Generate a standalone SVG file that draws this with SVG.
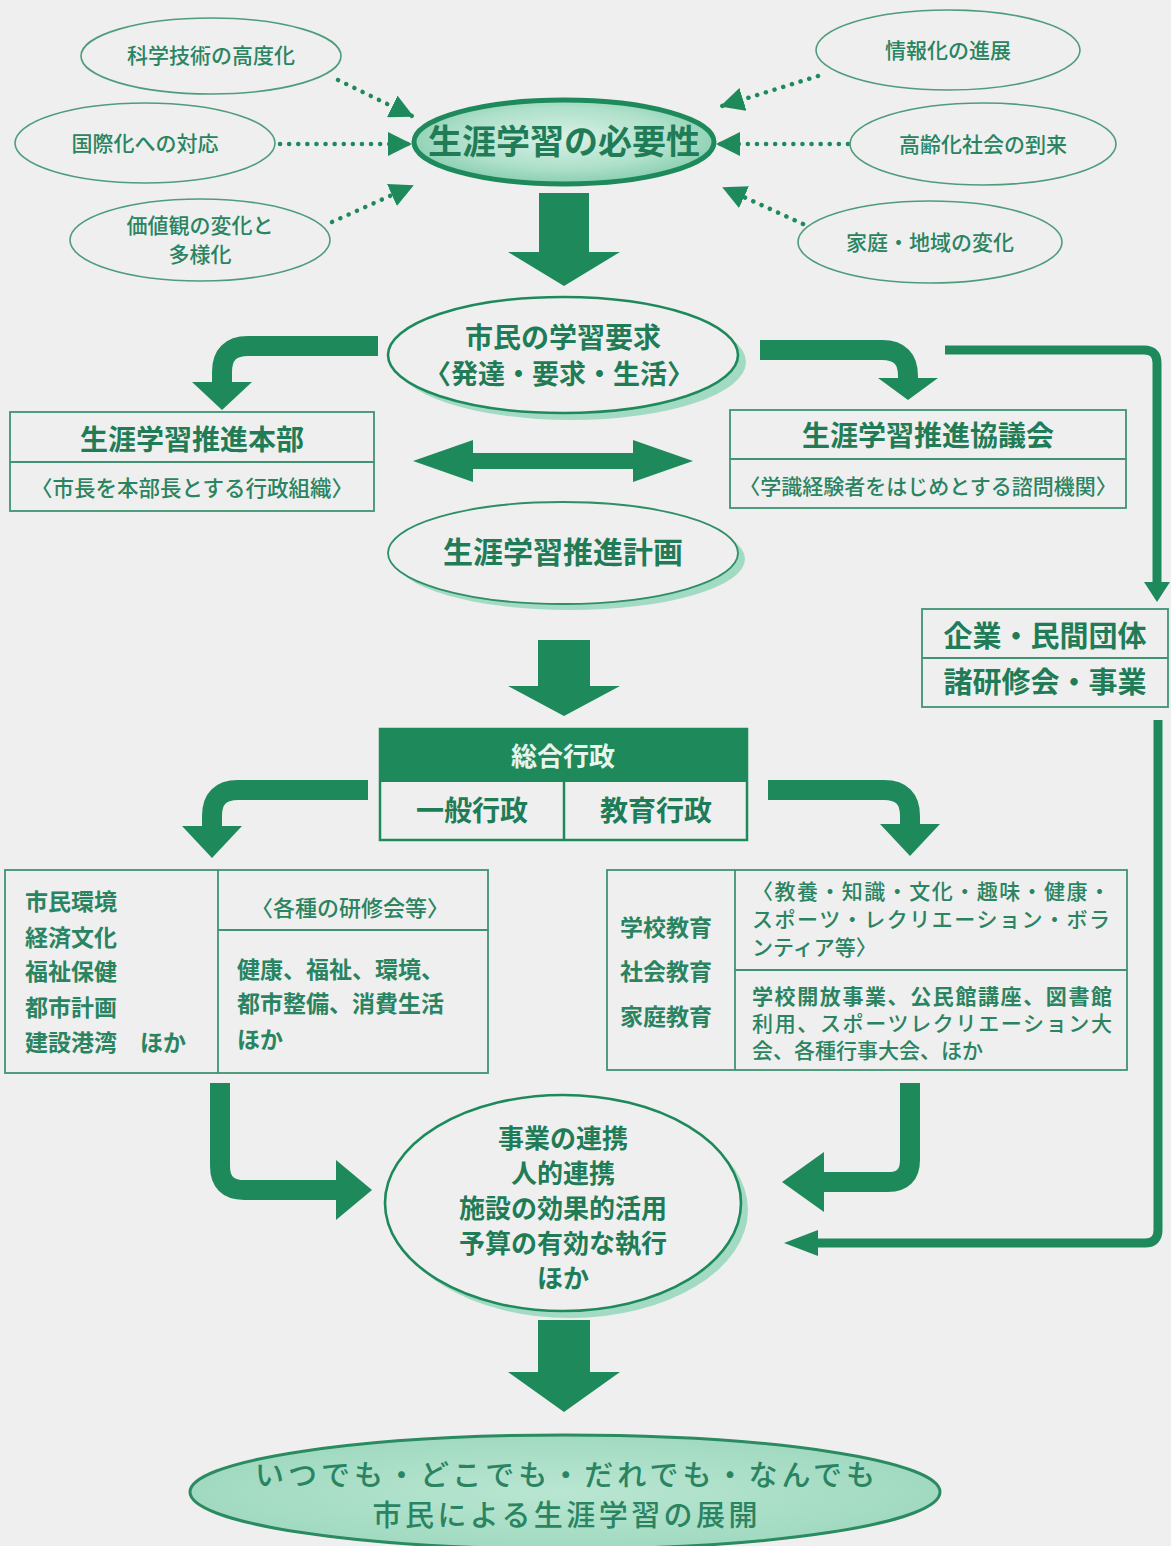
<svg xmlns="http://www.w3.org/2000/svg" width="1171" height="1546" viewBox="0 0 1171 1546">
<defs>
<style>
.t{font-family:"Noto Sans CJK JP","Noto Sans CJK SC",sans-serif;fill:#2a8461;}
.b{font-weight:700;fill:#1f7c57;}
.m{text-anchor:middle;}
.thin{fill:none;stroke:#4f9c7b;stroke-width:1.6;}
.box{fill:none;stroke:#3f9373;stroke-width:1.8;}
.dot{fill:none;stroke:#1e8a5c;stroke-width:4.5;stroke-dasharray:0.1 9;stroke-linecap:round;}
.ah{fill:#1e8a5c;}
.thick{fill:none;stroke:#1e8a5c;stroke-width:20;}
.line{fill:none;stroke:#1e8a5c;stroke-width:9;}
.shadow{fill:#a3dac3;}
.plain{fill:#efefef;stroke:#1e8a5c;stroke-width:2.6;}
</style>
<marker id="dh" viewBox="0 0 24 24" refX="22" refY="12" markerWidth="24" markerHeight="24" markerUnits="userSpaceOnUse" orient="auto">
<path d="M0,0 L24,12 L0,24 Z" fill="#1e8a5c"/>
</marker>
<radialGradient id="g1" cx="0.5" cy="0.45" r="0.6">
<stop offset="0" stop-color="#d9f1e6"/>
<stop offset="0.6" stop-color="#aee0ca"/>
<stop offset="1" stop-color="#7fcaa9"/>
</radialGradient>
<radialGradient id="g2" cx="0.5" cy="0.5" r="0.6">
<stop offset="0" stop-color="#b9e6d2"/>
<stop offset="1" stop-color="#9cd7bd"/>
</radialGradient>
</defs>
<rect x="0" y="0" width="1171" height="1546" fill="#efefef"/>

<g id="connectors">
<path class="dot" d="M338,80 L412,116" marker-end="url(#dh)"/>
<path class="dot" d="M280,144 L410,144" marker-end="url(#dh)"/>
<path class="dot" d="M332,222 L412,186" marker-end="url(#dh)"/>
<path class="dot" d="M818,76 L722,106" marker-end="url(#dh)"/>
<path class="dot" d="M848,144 L718,144" marker-end="url(#dh)"/>
<path class="dot" d="M803,224 L724,188" marker-end="url(#dh)"/>
<path class="ah" d="M539,193 H589 V252 H620 L564,286 L508,252 H539 Z"/>
<path class="thick" d="M378,346 H248 Q222,346 222,372 V384"/>
<path class="ah" d="M192,382 H252 L222,410 Z"/>
<path class="thick" d="M760,350 H882 Q908,350 908,376 V380"/>
<path class="ah" d="M878,378 H938 L908,400 Z"/>
<path class="line" d="M945,350 H1144 Q1157,350 1157,363 V584"/>
<path class="ah" d="M1144,582 H1170 L1157,602 Z"/>
<path class="ah" d="M413,461 L473,440 V453 H633 V440 L693,461 L633,482 V469 H473 V482 Z"/>
<path class="ah" d="M538,640 H590 V686 H620 L564,716 L508,686 H538 Z"/>
<path class="thick" d="M368,790 H238 Q212,790 212,816 V828"/>
<path class="ah" d="M182,826 H242 L212,858 Z"/>
<path class="thick" d="M768,790 H884 Q910,790 910,816 V826"/>
<path class="ah" d="M880,824 H940 L910,856 Z"/>
<path class="thick" d="M220,1083 V1166 Q220,1190 244,1190 H338"/>
<path class="ah" d="M336,1160 V1220 L372,1190 Z"/>
<path class="thick" d="M910,1083 V1160 Q910,1182 888,1182 H822"/>
<path class="ah" d="M824,1152 V1212 L782,1182 Z"/>
<path class="line" d="M1158,720 V1230 Q1158,1243 1145,1243 H815"/>
<path class="ah" d="M818,1230 V1256 L784,1243 Z"/>
<path class="ah" d="M538,1320 H590 V1372 H620 L564,1412 L508,1372 H538 Z"/>
</g>

<g id="n-kagaku"><ellipse class="thin" cx="211" cy="56" rx="130" ry="38"/><text class="t m" x="211" y="63" font-size="21" font-weight="500">科学技術の高度化</text></g>
<g id="n-kokusai"><ellipse class="thin" cx="145" cy="143" rx="130" ry="40"/><text class="t m" x="145" y="151" font-size="21" font-weight="500">国際化への対応</text></g>
<g id="n-kachi"><ellipse class="thin" cx="200" cy="240" rx="130" ry="41"/><text class="t m" x="200" y="233" font-size="21" font-weight="500">価値観の変化と</text><text class="t m" x="200" y="262" font-size="21" font-weight="500">多様化</text></g>
<g id="n-joho"><ellipse class="thin" cx="948" cy="50" rx="132" ry="40"/><text class="t m" x="948" y="58" font-size="21" font-weight="500">情報化の進展</text></g>
<g id="n-korei"><ellipse class="thin" cx="983" cy="144" rx="133" ry="41"/><text class="t m" x="983" y="152" font-size="21" font-weight="500">高齢化社会の到来</text></g>
<g id="n-katei"><ellipse class="thin" cx="930" cy="242" rx="132" ry="41"/><text class="t m" x="930" y="250" font-size="21" font-weight="500">家庭・地域の変化</text></g>

<g id="n-hitsuyo"><ellipse cx="564" cy="142" rx="150" ry="42" fill="url(#g1)" stroke="#1e8a5c" stroke-width="5"/><text class="t b m" x="564" y="154" font-size="34">生涯学習の必要性</text></g>

<g id="n-yokyu"><ellipse class="shadow" cx="571" cy="362" rx="175" ry="58"/><ellipse class="plain" cx="563" cy="355" rx="175" ry="58"/><text class="t b m" x="563" y="348" font-size="28">市民の学習要求</text><text class="t b m" x="559" y="384" font-size="27">〈発達・要求・生活〉</text></g>

<g id="n-honbu"><rect class="box" x="10" y="412" width="364" height="99"/><line class="box" x1="10" y1="462" x2="374" y2="462"/><text class="t b m" x="192" y="450" font-size="28">生涯学習推進本部</text><text class="t m" x="192" y="496" font-size="21.5" font-weight="500">〈市長を本部長とする行政組織〉</text></g>

<g id="n-kyogikai"><rect class="box" x="730" y="410" width="396" height="98"/><line class="box" x1="730" y1="459" x2="1126" y2="459"/><text class="t b m" x="928" y="446" font-size="28">生涯学習推進協議会</text><text class="t m" x="928" y="494" font-size="21" font-weight="500">〈学識経験者をはじめとする諮問機関〉</text></g>

<g id="n-keikaku"><ellipse class="shadow" cx="570" cy="559" rx="175" ry="51"/><ellipse fill="#efefef" stroke="#2e8f66" stroke-width="1.8" cx="563" cy="553" rx="175" ry="51"/><text class="t b m" x="563" y="563" font-size="30">生涯学習推進計画</text></g>

<g id="n-kigyo"><rect class="box" x="922" y="609" width="246" height="98"/><line class="box" x1="922" y1="658" x2="1168" y2="658"/><text class="t b m" x="1045" y="647" font-size="29">企業・民間団体</text><text class="t b m" x="1045" y="693" font-size="29">諸研修会・事業</text></g>

<g id="n-sogo"><rect x="380" y="729" width="367" height="53" fill="#1e8a5c"/><rect x="380" y="729" width="367" height="111" fill="none" stroke="#1e8a5c" stroke-width="2.5"/><line x1="564" y1="782" x2="564" y2="840" stroke="#1e8a5c" stroke-width="2.5"/><text class="t m" x="563" y="766" font-size="26" font-weight="700" style="fill:#e8f5ef">総合行政</text><text class="t b m" x="472" y="821" font-size="28">一般行政</text><text class="t b m" x="656" y="821" font-size="28">教育行政</text></g>

<g id="n-ippan"><rect class="box" x="5" y="870" width="483" height="203"/><line class="box" x1="218" y1="870" x2="218" y2="1073"/><line class="box" x1="218" y1="930" x2="488" y2="930"/>
<text class="t" x="25" y="910" font-size="23" font-weight="700">市民環境</text>
<text class="t" x="25" y="946" font-size="23" font-weight="700">経済文化</text>
<text class="t" x="25" y="980" font-size="23" font-weight="700">福祉保健</text>
<text class="t" x="25" y="1016" font-size="23" font-weight="700">都市計画</text>
<text class="t" x="25" y="1051" font-size="23" font-weight="700">建設港湾　ほか</text>
<text class="t m" x="350" y="916" font-size="22" font-weight="500">〈各種の研修会等〉</text>
<text class="t" x="237" y="978" font-size="23" font-weight="700">健康、福祉、環境、</text>
<text class="t" x="237" y="1012" font-size="23" font-weight="700">都市整備、消費生活</text>
<text class="t" x="237" y="1048" font-size="23" font-weight="700">ほか</text></g>

<g id="n-kyoiku"><rect class="box" x="607" y="870" width="520" height="200"/><line class="box" x1="735" y1="870" x2="735" y2="1070"/><line class="box" x1="735" y1="970" x2="1127" y2="970"/>
<text class="t" x="620" y="936" font-size="23" font-weight="700">学校教育</text>
<text class="t" x="620" y="980" font-size="23" font-weight="700">社会教育</text>
<text class="t" x="620" y="1025" font-size="23" font-weight="700">家庭教育</text>
<text class="t" x="752" y="899" font-size="21" font-weight="500" textLength="358">〈教養・知識・文化・趣味・健康・</text>
<text class="t" x="752" y="927" font-size="21" font-weight="500" textLength="358">スポーツ・レクリエーション・ボラ</text>
<text class="t" x="752" y="955" font-size="21" font-weight="500">ンティア等〉</text>
<text class="t" x="752" y="1004" font-size="21" font-weight="700" textLength="360">学校開放事業、公民館講座、図書館</text>
<text class="t" x="752" y="1031" font-size="21" font-weight="500" textLength="360">利用、スポーツレクリエーション大</text>
<text class="t" x="752" y="1058" font-size="21" font-weight="500">会、各種行事大会、ほか</text></g>

<g id="n-renkei"><ellipse class="shadow" cx="570" cy="1210" rx="178" ry="108"/><ellipse class="plain" cx="563" cy="1203" rx="178" ry="108"/>
<text class="t b m" x="563" y="1148" font-size="26">事業の連携</text>
<text class="t b m" x="563" y="1183" font-size="26">人的連携</text>
<text class="t b m" x="563" y="1218" font-size="26">施設の効果的活用</text>
<text class="t b m" x="563" y="1253" font-size="26">予算の有効な執行</text>
<text class="t b m" x="563" y="1288" font-size="26">ほか</text></g>

<g id="n-tenkai"><ellipse cx="565" cy="1492" rx="375" ry="57" fill="url(#g2)" stroke="#2a8a60" stroke-width="3"/>
<text class="t m" x="565" y="1486" font-size="29" font-weight="500" textLength="620">いつでも・どこでも・だれでも・なんでも</text>
<text class="t m" x="565" y="1526" font-size="29" font-weight="500" textLength="385">市民による生涯学習の展開</text></g>
</svg>
